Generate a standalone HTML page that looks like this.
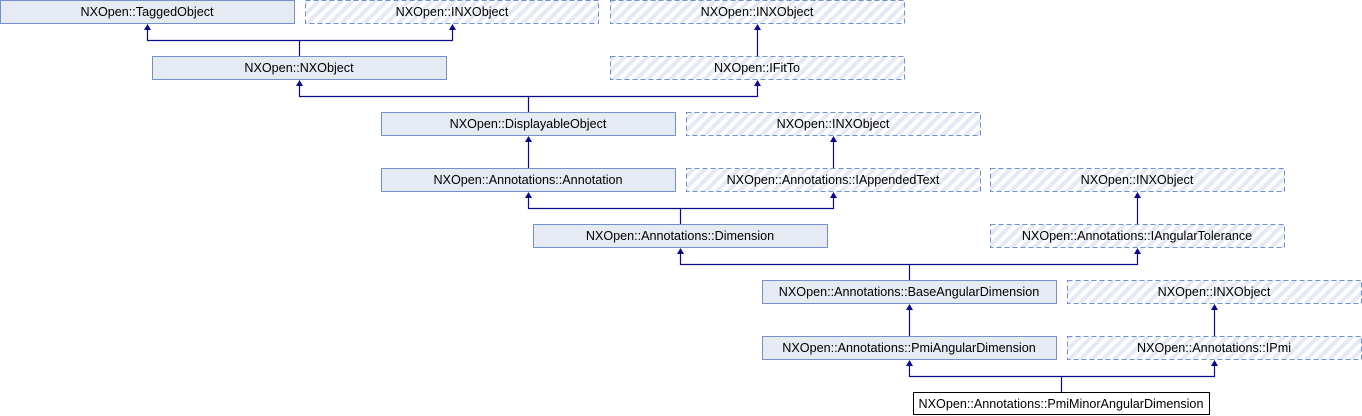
<!DOCTYPE html>
<html><head><meta charset="utf-8"><style>
html,body{margin:0;padding:0;background:#fff;}
svg{display:block;}
text{font-family:"Liberation Sans",Arial,sans-serif;font-size:12.6px;fill:#000;}
</style></head><body>
<svg width="1362" height="416" viewBox="0 0 1362 416" xmlns="http://www.w3.org/2000/svg">
<defs>
<pattern id="h" patternUnits="userSpaceOnUse" width="8" height="8" patternTransform="rotate(45)">
<rect width="8" height="8" fill="#fff"/>
<rect x="0" y="0" width="4" height="8" fill="#e4e9f4"/>
</pattern>
</defs>
<g fill="#e6eaf3" stroke="#7391c8" stroke-width="1">
<rect x="0.5" y="0.5" width="294" height="23"/>
<rect x="152.5" y="56.5" width="294" height="23"/>
<rect x="381.5" y="112.5" width="294" height="23"/>
<rect x="381.5" y="168.5" width="294" height="23"/>
<rect x="533.5" y="224.5" width="294" height="23"/>
<rect x="762.5" y="280.5" width="294" height="23"/>
<rect x="762.5" y="336.5" width="294" height="23"/>
</g>
<g fill="url(#h)" stroke="#7391c8" stroke-width="1" stroke-dasharray="5,3">
<rect x="305.5" y="0.5" width="293" height="23"/>
<rect x="610.5" y="0.5" width="294" height="23"/>
<rect x="610.5" y="56.5" width="294" height="23"/>
<rect x="686.5" y="112.5" width="294" height="23"/>
<rect x="686.5" y="168.5" width="294" height="23"/>
<rect x="990.5" y="168.5" width="294" height="23"/>
<rect x="990.5" y="224.5" width="294" height="23"/>
<rect x="1067.5" y="280.5" width="294" height="23"/>
<rect x="1067.5" y="336.5" width="294" height="23"/>
</g>
<rect x="913.5" y="392.5" width="296" height="22" fill="#fff" stroke="#000"/>
<g stroke="#0a0a8c" stroke-width="1.2" fill="none">
<path d="M147.5 28V40.5H452.5V28 M299.5 40.5V56"/>
<path d="M757.5 28V56"/>
<path d="M299.5 84V96.5H757.5V84 M528.5 96.5V112"/>
<path d="M528.5 140V168"/>
<path d="M833.5 140V168"/>
<path d="M528.5 196V208.5H833.5V196 M680.5 208.5V224"/>
<path d="M1137.5 196V224"/>
<path d="M680.5 252V264.5H1137.5V252 M909.5 264.5V280"/>
<path d="M909.5 308V336"/>
<path d="M1214.5 308V336"/>
<path d="M909.5 364V376.5H1214.5V364 M1061.5 376.5V392"/>
</g>
<g fill="#0a0a8c">
<path d="M147.5 24l-3.5 6h7z"/><path d="M452.5 24l-3.5 6h7z"/>
<path d="M757.5 24l-3.5 6h7z"/>
<path d="M299.5 80l-3.5 6h7z"/><path d="M757.5 80l-3.5 6h7z"/>
<path d="M528.5 136l-3.5 6h7z"/><path d="M833.5 136l-3.5 6h7z"/>
<path d="M528.5 192l-3.5 6h7z"/><path d="M833.5 192l-3.5 6h7z"/><path d="M1137.5 192l-3.5 6h7z"/>
<path d="M680.5 248l-3.5 6h7z"/><path d="M1137.5 248l-3.5 6h7z"/>
<path d="M909.5 304l-3.5 6h7z"/><path d="M1214.5 304l-3.5 6h7z"/>
<path d="M909.5 360l-3.5 6h7z"/><path d="M1214.5 360l-3.5 6h7z"/>
</g>
<g text-anchor="middle">
<text x="147" y="16">NXOpen::TaggedObject</text>
<text x="452" y="16">NXOpen::INXObject</text>
<text x="757" y="16">NXOpen::INXObject</text>
<text x="299" y="72">NXOpen::NXObject</text>
<text x="757" y="72">NXOpen::IFitTo</text>
<text x="528" y="128">NXOpen::DisplayableObject</text>
<text x="833" y="128">NXOpen::INXObject</text>
<text x="528" y="184">NXOpen::Annotations::Annotation</text>
<text x="833" y="184">NXOpen::Annotations::IAppendedText</text>
<text x="1137" y="184">NXOpen::INXObject</text>
<text x="680" y="240">NXOpen::Annotations::Dimension</text>
<text x="1137" y="240">NXOpen::Annotations::IAngularTolerance</text>
<text x="909" y="296">NXOpen::Annotations::BaseAngularDimension</text>
<text x="1214" y="296">NXOpen::INXObject</text>
<text x="909" y="352">NXOpen::Annotations::PmiAngularDimension</text>
<text x="1214" y="352">NXOpen::Annotations::IPmi</text>
<text x="1061" y="408">NXOpen::Annotations::PmiMinorAngularDimension</text>
</g>
</svg>
</body></html>
